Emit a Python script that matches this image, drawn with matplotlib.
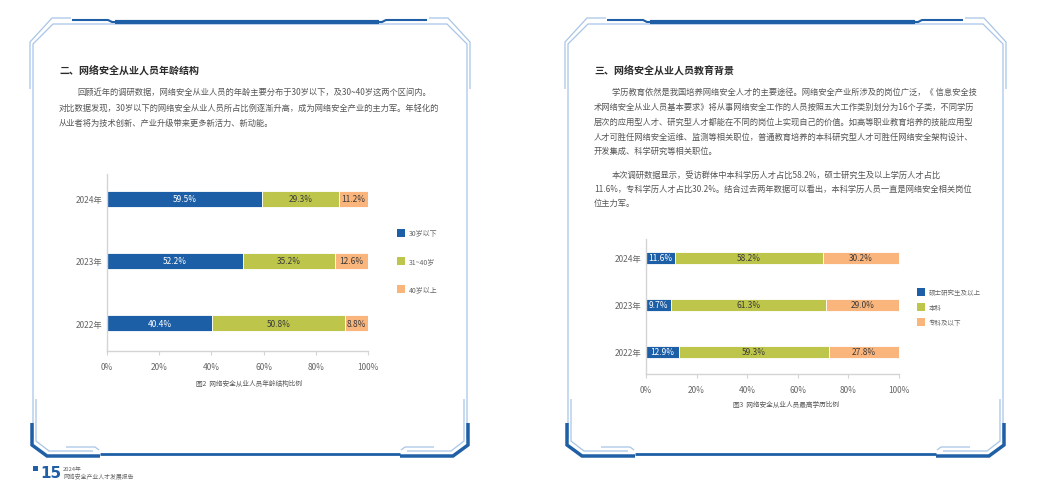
import matplotlib
matplotlib.use("Agg")
import matplotlib.pyplot as plt
from matplotlib.lines import Line2D
from matplotlib.patches import Rectangle

plt.rcParams['font.family'] = ['Noto Sans CJK SC', 'DejaVu Sans']

# ---------------- data ----------------
years = ['2022年', '2023年', '2024年']
age_labels = ['30岁以下', '31~40岁', '40岁以上']
age_under30 = [40.4, 52.2, 59.5]
age_31_40 = [50.8, 35.2, 29.3]
age_over40 = [8.8, 12.6, 11.2]
edu_labels = ['硕士研究生及以上', '本科', '专科及以下']
edu_master = [12.9, 9.7, 11.6]
edu_bachelor = [59.3, 61.3, 58.2]
edu_college = [27.8, 29.0, 30.2]
pct_ticks = [0, 20, 40, 60, 80, 100]
pct_ticklabels = ['0%', '20%', '40%', '60%', '80%', '100%']

colors = ['#1d5fa7', '#bdc64b', '#fab57c']
label_colors = ['white', '#3a3a3a', '#3a3a3a']

W, H = 1049, 502
fig = plt.figure(figsize=(W / 100, H / 100), dpi=100)
fig.patch.set_facecolor('white')


def fx(x):
    return x / W


def fy(y):
    return 1 - y / H


def pline(xs, ys, color, lw):
    fig.add_artist(Line2D([fx(x) for x in xs], [fy(y) for y in ys],
                          color=color, lw=lw, solid_joinstyle='miter',
                          solid_capstyle='butt'))


LIGHT = '#a8c5e6'
BLUE = '#1f5fa6'


def frame(x0, x1):
    # inner outline
    pline([x0, x0, x0 + 20, x1 - 20, x1, x1], [440, 45, 25, 25, 45, 440], LIGHT, 0.9)
    # outer offsets at top corners
    pline([x0 - 3, x0 - 3, x0 + 19, x0 + 38], [90, 43, 19, 19], LIGHT, 0.9)
    pline([x1 + 3, x1 + 3, x1 - 19, x1 - 38], [90, 43, 19, 19], LIGHT, 0.9)
    # top blue band
    pline([x0 + 39, x0 + 75, x0 + 79, x1 - 85, x1 - 81, x1 - 40],
          [21, 21, 23, 23, 21, 21], BLUE, 1.5)
    pline([x0 + 82, x1 - 88], [22.5, 22.5], BLUE, 3.0)
    # bottom light lines
    pline([x0 + 3, x0 + 3, x0 + 16, x0 + 60], [400, 442, 452, 452], LIGHT, 0.9)
    pline([x1 - 3, x1 - 3, x1 - 16, x1 - 60], [400, 442, 452, 452], LIGHT, 0.9)
    pline([x0 + 33, x0 + 62, x0 + 66], [448, 448, 451], LIGHT, 0.9)
    pline([x1 - 33, x1 - 62, x1 - 66], [448, 448, 451], LIGHT, 0.9)
    # bottom thick blue
    pline([x0 - 1, x0 - 1, x0 + 14, x0 + 67], [424, 446, 457, 457], BLUE, 2.5)
    pline([x1 + 1, x1 + 1, x1 - 14, x1 - 67], [424, 446, 457, 457], BLUE, 2.5)
    pline([x0 + 67, x0 + 80, x1 - 80, x1 - 67], [455, 455, 455, 455], BLUE, 2.0)


frame(33, 467)
frame(568, 1003)

TXT = '#555555'
HEAD = '#2b2b2b'

# ---------------- left page text ----------------
fig.text(fx(59), fy(70), '二、网络安全从业人员年龄结构', fontsize=7.2,
         fontweight='bold', color=HEAD, va='center', ha='left')
left_lines = [
    (77, 92, '回顾近年的调研数据，网络安全从业人员的年龄主要分布于30岁以下，及30~40岁这两个区间内。'),
    (59, 108, '对比数据发现，30岁以下的网络安全从业人员所占比例逐渐升高，成为网络安全产业的主力军。年轻化的'),
    (59, 123, '从业者将为技术创新、产业升级带来更多新活力、新动能。'),
]
for x, y, s in left_lines:
    fig.text(fx(x), fy(y), s, fontsize=5.95, color=TXT, va='center', ha='left')

# ---------------- right page text ----------------
fig.text(fx(594), fy(70), '三、网络安全从业人员教育背景', fontsize=7.2,
         fontweight='bold', color=HEAD, va='center', ha='left')
right_lines = [
    (612, 92, '学历教育依然是我国培养网络安全人才的主要途径。网络安全产业所涉及的岗位广泛，《 信息安全技'),
    (594, 107, '术网络安全从业人员基本要求》将从事网络安全工作的人员按照五大工作类别划分为16个子类，不同学历'),
    (594, 122, '层次的应用型人才、研究型人才都能在不同的岗位上实现自己的价值。如高等职业教育培养的技能应用型'),
    (594, 137, '人才可胜任网络安全运维、监测等相关职位，普通教育培养的本科研究型人才可胜任网络安全架构设计、'),
    (594, 151, '开发集成、科学研究等相关职位。'),
    (612, 175, '本次调研数据显示，受访群体中本科学历人才占比58.2%，硕士研究生及以上学历人才占比'),
    (594, 189, '11.6%，专科学历人才占比30.2%。结合过去两年数据可以看出，本科学历人员一直是网络安全相关岗位'),
    (594, 203, '位主力军。'),
]
for x, y, s in right_lines:
    fig.text(fx(x), fy(y), s, fontsize=5.95, color=TXT, va='center', ha='left')


# ---------------- charts ----------------
def make_chart(left, right, top, bottom, ylim, height, series, labels,
               leg_x, leg_ys, leg_fs, caption, cap_x, cap_y):
    ax = fig.add_axes([fx(left), fy(bottom), (right - left) / W, (bottom - top) / H])
    ypos = list(range(len(years)))
    base = [0.0] * len(years)
    for vals, c, lc in zip(series, colors, label_colors):
        bars = ax.barh(ypos, vals, left=base, height=height, color=c,
                       edgecolor='white', linewidth=0.6)
        ax.bar_label(bars, labels=[f'{v:.1f}%' for v in vals],
                     label_type='center', fontsize=6.0, color=lc)
        base = [b + v for b, v in zip(base, vals)]
    ax.set_xlim(0, 100)
    ax.set_ylim(*ylim)
    ax.set_xticks(pct_ticks)
    ax.set_xticklabels(pct_ticklabels)
    ax.set_yticks(ypos)
    ax.set_yticklabels(years)
    for s in ['top', 'right']:
        ax.spines[s].set_visible(False)
    for s in ['left', 'bottom']:
        ax.spines[s].set_color('#d4d4d4')
        ax.spines[s].set_linewidth(1.0)
    ax.tick_params(axis='x', length=3, width=0.8, color='#d4d4d4',
                   labelsize=6.0, labelcolor='#666666', pad=5)
    ax.tick_params(axis='y', length=0, labelsize=6.0, labelcolor='#666666', pad=3)
    ax.set_facecolor('none')
    # legend
    for lab, c, ly in zip(labels, colors, leg_ys):
        fig.add_artist(Rectangle((fx(leg_x), fy(ly + 4)), 8 / W, 8 / H,
                                 facecolor=c, edgecolor='none'))
        fig.text(fx(leg_x + 12), fy(ly), lab, fontsize=leg_fs, color='#666666',
                 va='center', ha='left')
    fig.text(fx(cap_x), fy(cap_y), caption, fontsize=4.8, color='#555555',
             va='center', ha='center')
    return ax


make_chart(107, 368, 175, 352, (-0.45, 2.40), 0.26,
           [age_under30, age_31_40, age_over40], age_labels,
           397, [234, 262, 290], 5.0, '图2  网络安全从业人员年龄结构比例', 249, 384)
make_chart(646, 899, 240, 375, (-0.47, 2.40), 0.26,
           [edu_master, edu_bachelor, edu_college], edu_labels,
           917, [293, 308, 323], 4.7, '图3  网络安全从业人员最高学历比例', 786, 405)

# ---------------- footer ----------------
fig.add_artist(Rectangle((fx(33), fy(472)), 5 / W, 5 / H, facecolor=BLUE, edgecolor='none'))
fig.text(fx(40), fy(474), '15', fontsize=11, fontweight='bold', color=BLUE,
         va='center', ha='left', family='DejaVu Sans')
fig.text(fx(63), fy(470), '2024年', fontsize=4.2, color='#666666', va='center', ha='left')
fig.text(fx(63), fy(477), '网络安全产业人才发展报告', fontsize=4.2, color='#666666',
         va='center', ha='left')

fig.savefig('out.png', dpi=100, facecolor='white')
